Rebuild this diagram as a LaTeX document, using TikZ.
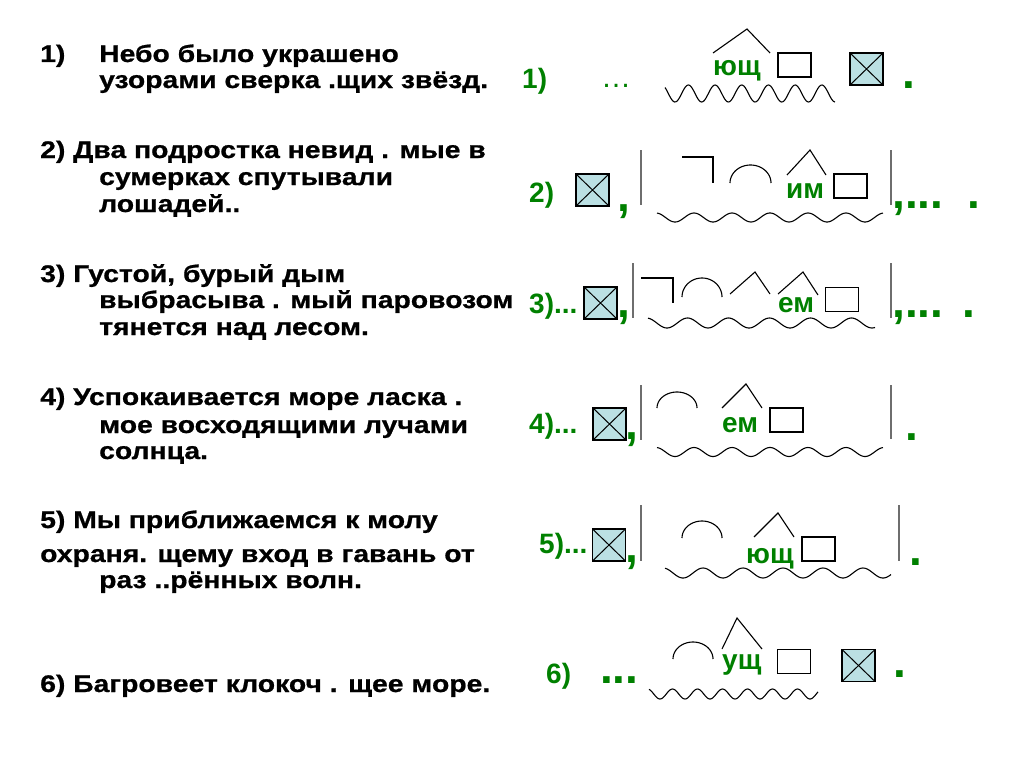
\documentclass[tikz,border=0pt]{standalone}
\usepackage{fontspec}
\setmainfont{Liberation Sans}
\newfontfamily\sentfont{Liberation Sans}[FakeStretch=1.18, BoldFeatures={FakeBold=0.8}]
\usepackage{xcolor}
\usepackage{tikz}

\definecolor{syllgreen}{RGB}{0,128,0}
\definecolor{wordfill}{RGB}{187,224,227}
\definecolor{bargray}{RGB}{110,110,110}

\tikzset{
	sentence/.style={anchor=base west, inner sep=0pt, font=\sentfont\fontsize{24}{26}\selectfont\bfseries},
	greenlabel/.style={anchor=base west, inner sep=0pt, text=syllgreen, font=\fontsize{28}{30}\selectfont\bfseries},
	punct/.style={anchor=base west, inner sep=0pt, text=syllgreen, font=\fontsize{46}{48}\selectfont\bfseries},
	crossbox/.style={draw, line width=1.4pt, fill=wordfill, minimum width=33pt, minimum height=32pt, inner sep=0pt,
		path picture={\draw[line width=1pt] (path picture bounding box.south west) -- (path picture bounding box.north east)
			(path picture bounding box.north west) -- (path picture bounding box.south east);}},
	emptybox/.style={draw, line width=1.3pt, minimum width=33pt, minimum height=24pt, inner sep=0pt},
	graphline/.style={line width=1.1pt},
	sepbar/.style={bargray, line width=1.6pt},
}

\begin{document}
\begin{tikzpicture}[x=1pt, y=-1pt]
				\useasboundingbox (0,0) rectangle (1024,768);
				% Sentences:
				\node[sentence] (s1num) at (40,62) {1)};
				\node[sentence] (s1a) at (99,62) {Небо было украшено};
				\node[sentence] (s1b) at (99,88) {узорами сверка .щих звёзд.};
				\node[sentence] (s2a) at (40,158) {2) Два подростка невид . мые в};
				\node[sentence] (s2b) at (99,185) {сумерках спутывали};
				\node[sentence] (s2c) at (99,212) {лошадей..};
				\node[sentence] (s3a) at (40,282) {3) Густой, бурый дым};
				\node[sentence] (s3b) at (99,308) {выбрасыва . мый паровозом};
				\node[sentence] (s3c) at (99,335) {тянется над лесом.};
				\node[sentence] (s4a) at (40,405) {4) Успокаивается море ласка .};
				\node[sentence] (s4b) at (99,433) {мое восходящими лучами};
				\node[sentence] (s4c) at (99,459) {солнца.};
				\node[sentence] (s5a) at (40,528) {5) Мы приближаемся к молу};
				\node[sentence] (s5b) at (40,562) {охраня. щему вход в гавань от};
				\node[sentence] (s5c) at (99,588) {раз ..рённых волн.};
				\node[sentence] (s6a) at (40,692) {6) Багровеет клокоч . щее море.};

				% Scheme 1:
				\node[greenlabel] (n1) at (522,88) {1)};
				\node[greenlabel, font=\fontsize{30}{32}\selectfont] (d1) at (601,87) {…};
				\draw[graphline] (713,53) -- (747,29) -- (770,53);
				\node[greenlabel] (y1) at (713,75) {ющ};
				\node[emptybox] (e1) at (794.5,65) {};
				\draw[graphline] plot[domain=665:835, samples=160, smooth] (\x, {93.5+8.5*cos((\x-675)/26.7*360)});
				\node[crossbox] (x1) at (866.5,69) {};
				\node[punct] (p1) at (902,88) {.};

				% Scheme 2:
				\node[greenlabel] (n2) at (529,202) {2)};
				\node[crossbox] (x2) at (592.5,190) {};
				\node[punct] (c2) at (617,211) {,};
				\draw[sepbar] (641,150) -- (641,205);
				\draw[graphline] (682,157) -- (713,157) -- (713,183);
				\draw[graphline] plot[domain=180:0, samples=40] ({750.5+20.5*cos(\x)}, {183-18*sin(\x)});
				\draw[graphline] (787,175) -- (810,150) -- (826,175);
				\node[greenlabel] (y2) at (786,198) {им};
				\node[emptybox] (e2) at (850.5,186) {};
				\draw[sepbar] (891,150) -- (891,205);
				\draw[graphline] plot[domain=657:883, samples=160, smooth] (\x, {217.5+4.5*cos((\x-675)/38*360)});
				\node[punct] (q2) at (892,208) {,...};
				\node[punct] (p2) at (967,208) {.};

				% Scheme 3:
				\node[greenlabel] (n3) at (529,313) {3)...};
				\node[crossbox] (x3) at (600.5,303) {};
				\node[punct] (c3) at (617,317) {,};
				\draw[sepbar] (633,263) -- (633,318);
				\draw[graphline] (641,278) -- (673,278) -- (673,303);
				\draw[graphline] plot[domain=180:0, samples=40] ({702+20*cos(\x)}, {297-19*sin(\x)});
				\draw[graphline] (730,294) -- (755,272) -- (770,294);
				\draw[graphline] (778,294) -- (803,272) -- (818,295);
				\node[greenlabel] (y3) at (778,312) {ем};
				\node[emptybox] (e3) at (842,299.5) {};
				\draw[sepbar] (891,263) -- (891,318);
				\draw[graphline] plot[domain=648:875, samples=160, smooth] (\x, {323+5*cos((\x-667)/41*360)});
				\node[punct] (q3) at (892,317) {,...};
				\node[punct] (p3) at (962,317) {.};

				% Scheme 4:
				\node[greenlabel] (n4) at (529,433) {4)...};
				\node[crossbox] (x4) at (609.5,424) {};
				\node[punct] (c4) at (625,439) {,};
				\draw[sepbar] (641,385) -- (641,440);
				\draw[graphline] plot[domain=180:0, samples=40] ({677+20*cos(\x)}, {408-16*sin(\x)});
				\draw[graphline] (722,408) -- (746,384) -- (762,408);
				\node[greenlabel] (y4) at (722,432) {ем};
				\node[emptybox] (e4) at (786.5,420) {};
				\draw[sepbar] (891,385) -- (891,439);
				\draw[graphline] plot[domain=657:883, samples=160, smooth] (\x, {452+4.5*cos((\x-675)/38*360)});
				\node[punct] (p4) at (905,440) {.};

				% Scheme 5:
				\node[greenlabel] (n5) at (539,553) {5)...};
				\node[crossbox] (x5) at (609,545) {};
				\node[punct] (c5) at (625,562) {,};
				\draw[sepbar] (641,505) -- (641,561);
				\draw[graphline] plot[domain=180:0, samples=40] ({702+20*cos(\x)}, {538-17*sin(\x)});
				\draw[graphline] (754,537) -- (778,513) -- (794,537);
				\node[greenlabel] (y5) at (746,563) {ющ};
				\node[emptybox] (e5) at (818.5,549) {};
				\draw[sepbar] (899,505) -- (899,561);
				\draw[graphline] plot[domain=665:891, samples=160, smooth] (\x, {573+5*cos((\x-683)/40*360)});
				\node[punct] (p5) at (909,565) {.};

				% Scheme 6:
				\node[greenlabel] (n6) at (546,683) {6)};
				\node[punct] (d6) at (600,683) {...};
				\draw[graphline] plot[domain=180:0, samples=40] ({693+20*cos(\x)}, {659-17*sin(\x)});
				\draw[graphline] (722,649) -- (737,618) -- (762,649);
				\node[greenlabel] (y6) at (722,669) {ущ};
				\node[emptybox] (e6) at (794,661.5) {};
				\draw[graphline] plot[domain=649:818, samples=160, smooth] (\x, {694+5*cos((\x-660)/25*360)});
				\node[crossbox] (x6) at (858.5,665.5) {};
				\node[punct] (p6) at (893,677) {.};
\end{tikzpicture}
\end{document}
